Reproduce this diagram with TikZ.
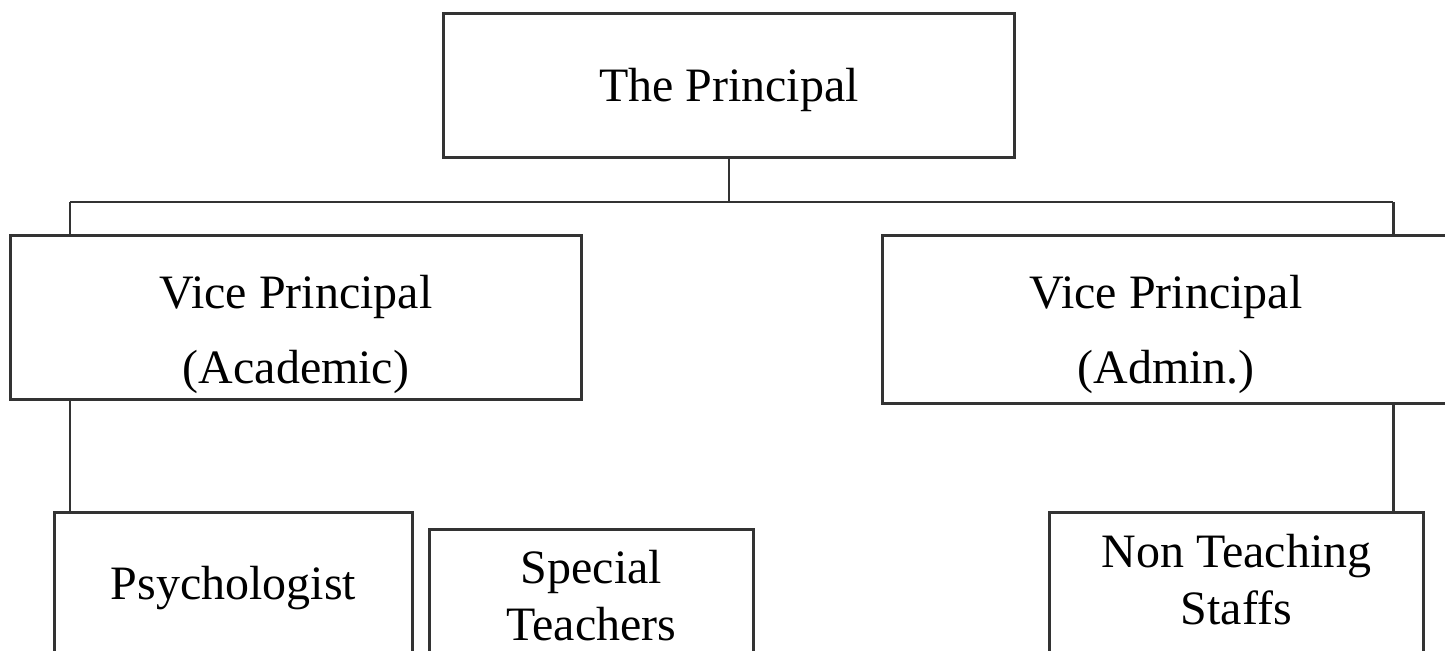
\documentclass[tikz,border=0pt]{standalone}
\usepackage{fontspec}
\setmainfont{Liberation Serif}
\usepackage{xcolor}
\newcommand{\boxfont}{\fontsize{27.3}{42.7}\selectfont}
\newcommand{\smallboxfont}{\fontsize{27.3}{32.2}\selectfont}

\begin{document}
\begin{tikzpicture}[x=0.02cm, y=-0.02cm,
        orgbox/.style={draw=black!80, line width=1.7pt, anchor=north, inner sep=0pt, align=center, font=\boxfont},
        orgline/.style={draw=black!80, line width=1.7pt}]
                % page
                \useasboundingbox (0,0) rectangle (1445,651);
                \clip (0,0) rectangle (1445,651);

                % top
                \node[orgbox, minimum width=11.44cm, text height=1.76cm, text depth=1.12cm] (principal) at (729,12) {The Principal};

                % vice principals
                \node[orgbox, minimum width=11.44cm, text height=2.96cm, text depth=0.32cm] (vpacad) at (296,234) {Vice Principal\\(Academic)};
                \node[orgbox, minimum width=11.36cm, text height=2.96cm, text depth=0.4cm] (vpadmin) at (1166,234) {Vice Principal\\(Admin.)};

                % staff
                \node[orgbox, minimum width=7.18cm, text height=1.74cm, text depth=1.4cm] (psych) at (233.5,511) {Psychologist};
                \node[orgbox, font=\smallboxfont, minimum width=6.5cm, text height=2.22cm, text depth=1cm] (special) at (591.5,528) {Special\\Teachers};
                \node[orgbox, font=\smallboxfont, minimum width=7.5cm, text height=2.24cm, text depth=1cm] (nts) at (1236.5,511) {Non Teaching\\Staffs};

                % connectors
                \coordinate (hl) at (70,202);
                \coordinate (hr) at (1393,202);
                \draw[orgline] (principal.south) -- (principal.south |- hl);
                \draw[orgline] (hl) -- (hr);
                \draw[orgline] (hl) -- (hl |- vpacad.north);
                \draw[orgline] (hr) -- (hr |- vpadmin.north);
                \draw[orgline] (vpacad.south -| hl) -- (hl |- psych.north);
                \draw[orgline] (vpadmin.south -| hr) -- (hr |- nts.north);

            \end{tikzpicture}
\end{document}
